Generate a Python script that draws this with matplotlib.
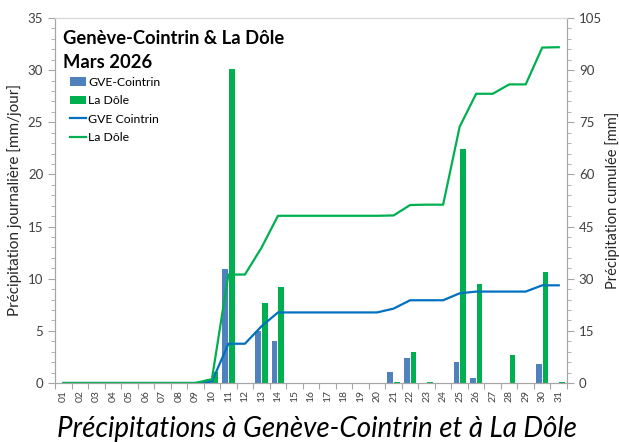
import matplotlib
matplotlib.use("Agg")
import matplotlib.pyplot as plt
import numpy as np
from matplotlib.ticker import MultipleLocator, FixedLocator

plt.rcParams['font.family'] = ['Lato', 'DejaVu Sans']

days = list(range(1, 32))
day_labels = ['%02d' % d for d in days]

# daily precipitation [mm/jour]
gve_daily = [0, 0, 0, 0, 0, 0, 0, 0, 0, 0.4, 10.9, 0, 5.0, 4.0, 0, 0, 0, 0, 0, 0,
             1.1, 2.4, 0, 0, 2.0, 0.5, 0, 0, 0, 1.8, 0]
dole_daily = [0, 0, 0, 0, 0, 0, 0, 0, 0, 1.1, 30.1, 0, 7.7, 9.2, 0, 0, 0, 0, 0, 0,
              0.1, 3.0, 0.1, 0, 22.4, 9.5, 0, 2.7, 0, 10.6, 0.1]

# cumulative precipitation [mm]
gve_cum = [0, 0, 0, 0, 0, 0, 0, 0, 0, 0.4, 11.3, 11.3, 16.3, 20.3, 20.3, 20.3, 20.3,
           20.3, 20.3, 20.3, 21.4, 23.8, 23.8, 23.8, 25.8, 26.3, 26.3, 26.3, 26.3,
           28.1, 28.1]
dole_cum = [0, 0, 0, 0, 0, 0, 0, 0, 0, 1.1, 31.2, 31.2, 38.9, 48.1, 48.1, 48.1, 48.1,
            48.1, 48.1, 48.1, 48.2, 51.2, 51.3, 51.3, 73.7, 83.2, 83.2, 85.9, 85.9,
            96.5, 96.6]

blue_bar = '#4F81BD'
green = '#00B050'
blue_line = '#0070C0'
spine_col = '#A6A6A6'

fig = plt.figure(figsize=(6.19, 4.42), dpi=100)
ax = fig.add_axes([55 / 619, 59 / 442, 512 / 619, 365 / 442])
ax2 = ax.twinx()

x = np.array(days)
b1 = ax.bar(x - 0.2, gve_daily, width=0.34, color=blue_bar, label='GVE-Cointrin', zorder=2)
b2 = ax.bar(x + 0.2, dole_daily, width=0.34, color=green, label='La Dôle', zorder=2)
l1, = ax2.plot(x, gve_cum, color=blue_line, lw=1.6, label='GVE Cointrin')
l2, = ax2.plot(x, dole_cum, color=green, lw=1.6, label='La Dôle')

ax.set_xlim(0.5, 31.5)
ax.set_ylim(0, 35)
ax2.set_ylim(0, 105)

ax.yaxis.set_major_locator(MultipleLocator(5))
ax.yaxis.set_minor_locator(MultipleLocator(1))
ax2.yaxis.set_major_locator(MultipleLocator(15))
ax2.yaxis.set_minor_locator(MultipleLocator(3))

ax.xaxis.set_major_locator(FixedLocator(np.arange(0.5, 32, 1)))
ax.xaxis.set_minor_locator(FixedLocator(x))
ax.set_xticklabels([], minor=False)
ax.set_xticklabels(day_labels, minor=True, rotation=90, fontsize=7.5, color='#404040')
ax.tick_params(axis='x', which='major', length=4, color=spine_col)
ax.tick_params(axis='x', which='minor', length=0, pad=5)

for a in (ax, ax2):
    a.tick_params(axis='y', which='major', length=5, color=spine_col, labelsize=9.5, labelcolor='#404040')
    a.tick_params(axis='y', which='minor', length=3, color=spine_col)
    for s in a.spines.values():
        s.set_color(spine_col)
    a.spines['top'].set_color('#D9D9D9')

ax.set_ylabel('Précipitation journalière [mm/jour]', fontsize=11, color='#262626')
ax2.set_ylabel('Précipitation cumulée [mm]', fontsize=10.5, color='#262626', labelpad=2)

ax.text(0.015, 0.968, 'Genève-Cointrin & La Dôle\nMars 2026', transform=ax.transAxes,
        fontsize=13.2, fontweight='bold', va='top', ha='left', linespacing=1.55)

ax2.legend([b1, b2, l1, l2], ['GVE-Cointrin', 'La Dôle', 'GVE Cointrin', 'La Dôle'],
           loc='upper left', bbox_to_anchor=(0.012, 0.862), frameon=False, fontsize=8.8,
           handlelength=1.3, handletextpad=0.2, labelspacing=0.6, borderaxespad=0.3)

fig.text(0.512, 0.03, 'Précipitations à Genève-Cointrin et à La Dôle', ha='center',
         va='center', fontsize=20, style='italic')

fig.savefig('out.png', dpi=100)
